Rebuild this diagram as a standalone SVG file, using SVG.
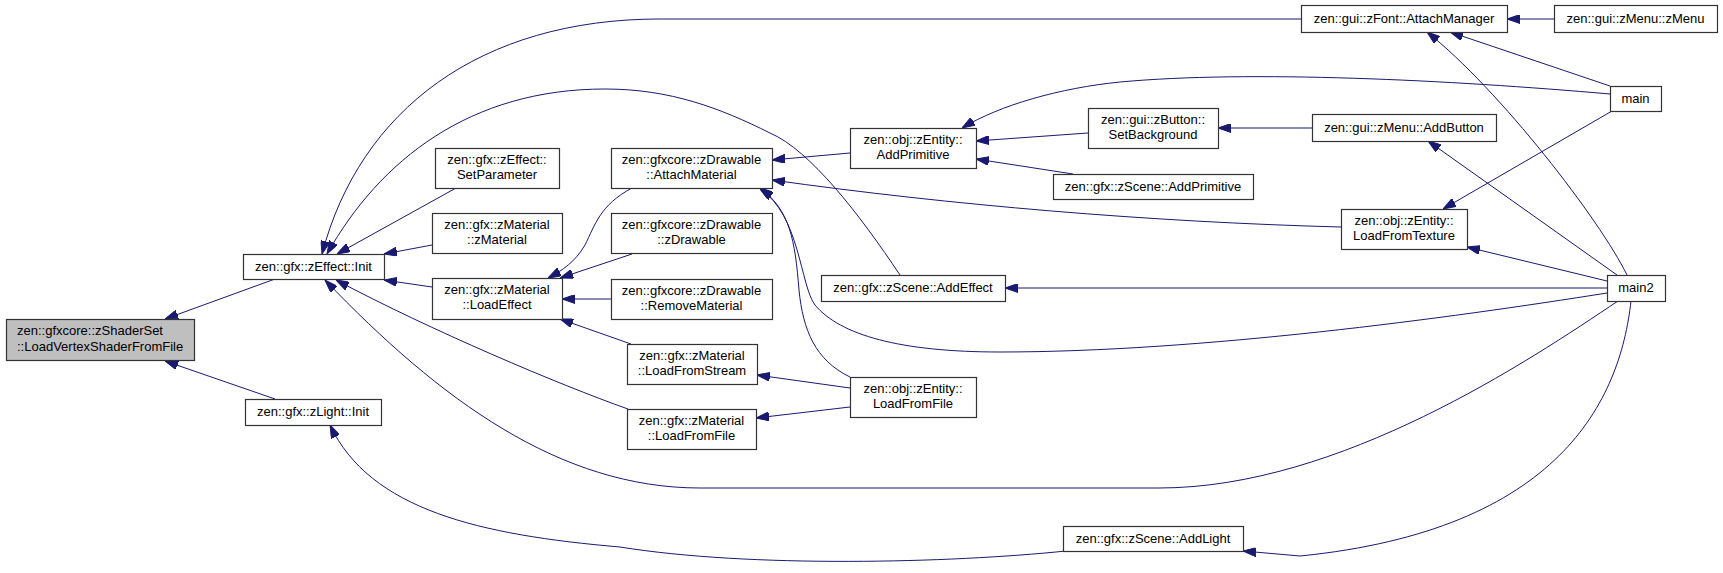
<svg xmlns="http://www.w3.org/2000/svg" width="1723" height="573" viewBox="0 0 1723 573">
<style>
.e{fill:none;stroke:#191970;stroke-width:1;marker-end:url(#ah)}
.n rect{fill:#ffffff;stroke:#333333;stroke-width:1.2}
.n.m rect{fill:#bfbfbf}
text{font-family:"Liberation Sans",Arial,sans-serif;font-size:13px;fill:#000000;text-anchor:middle}
.n.m text{text-anchor:start}
</style>
<defs>
<marker id="ah" viewBox="0 0 13 9" refX="13" refY="4.5" markerWidth="13" markerHeight="9" orient="auto" markerUnits="userSpaceOnUse">
<path d="M0,0 L13,4.5 L0,9 Z" fill="#191970" stroke="#191970" stroke-width="1"/>
</marker>
</defs>
<rect x="0" y="0" width="1723" height="573" fill="#ffffff"/>
<g id="connectors">
<path class="e" d="M275,279 L165,319"/>
<path class="e" d="M275,399 L165,361"/>
<path class="e" d="M456,188 L337,254"/>
<path class="e" d="M432,245 L384,254"/>
<path class="e" d="M432,287 L384,280"/>
<path class="e" d="M628,409 C560,385 430,330 336,280"/>
<path class="e" d="M1618,301 C1530,360 1340,488 1159,488 L700,488 C560,488 440,400 325,280"/>
<path class="e" d="M1301,19 L660,19 C480,19 360,110 322,254"/>
<path class="e" d="M900,275 C860,215 810,150 770,133 C720,108 670,89 605,89 C470,89 380,160 327,254"/>
<path class="e" d="M632,188 C600,205 595,225 585,245 C575,262 563,270 548,278"/>
<path class="e" d="M632,254 L560,278"/>
<path class="e" d="M611,299 L562,299"/>
<path class="e" d="M631,344 L560,319"/>
<path class="e" d="M850,153 L772,160"/>
<path class="e" d="M1341,227 C1150,222 950,205 772,180"/>
<path class="e" d="M850,377 C815,360 803,330 799,290 C795,240 790,210 760,188"/>
<path class="e" d="M1607,293 C1450,318 1200,352 1000,352 C900,352 840,335 815,305 C800,285 800,215 760,189"/>
<path class="e" d="M1088,133 L976,141"/>
<path class="e" d="M1073,174 L976,159"/>
<path class="e" d="M1610,94 C1450,80 1250,70 1120,82 C1060,88 1000,105 962,128"/>
<path class="e" d="M1312,128 L1218,128"/>
<path class="e" d="M1554,19 L1507,19"/>
<path class="e" d="M1610,86 L1450,32"/>
<path class="e" d="M1627,275 C1600,220 1500,90 1427,32"/>
<path class="e" d="M1617,275 L1428,141"/>
<path class="e" d="M1612,111 L1443,209"/>
<path class="e" d="M1607,281 L1467,247"/>
<path class="e" d="M1607,288 L1005,288"/>
<path class="e" d="M850,388 L757,375"/>
<path class="e" d="M850,407 L756,418"/>
<path class="e" d="M1631,301 C1620,400 1560,530 1300,556 L1243,551"/>
<path class="e" d="M1066,551 C950,563 750,568 620,547 C480,535 370,510 330,425"/>
</g>
<g id="n_main" class="n m"><rect x="6.5" y="319.5" width="188" height="41"/><text x="17" y="335">zen::gfxcore::zShaderSet</text><text x="17" y="351">::LoadVertexShaderFromFile</text></g>
<g id="n_effect_init" class="n"><rect x="243.5" y="254.5" width="141" height="25"/><text x="313.5" y="271">zen::gfx::zEffect::Init</text></g>
<g id="n_light_init" class="n"><rect x="245.5" y="399.5" width="136" height="26"/><text x="313" y="416">zen::gfx::zLight::Init</text></g>
<g id="n_setparam" class="n"><rect x="435.5" y="148.5" width="124" height="40"/><text x="497" y="164">zen::gfx::zEffect::</text><text x="497" y="179">SetParameter</text></g>
<g id="n_zmaterial" class="n"><rect x="432.5" y="213.5" width="130" height="40"/><text x="497" y="229">zen::gfx::zMaterial</text><text x="497" y="244">::zMaterial</text></g>
<g id="n_loadeffect" class="n"><rect x="432.5" y="278.5" width="130" height="41"/><text x="497" y="294">zen::gfx::zMaterial</text><text x="497" y="309">::LoadEffect</text></g>
<g id="n_attachmat" class="n"><rect x="611.5" y="148.5" width="161" height="40"/><text x="691.5" y="164">zen::gfxcore::zDrawable</text><text x="691.5" y="179">::AttachMaterial</text></g>
<g id="n_zdrawable" class="n"><rect x="611.5" y="213.5" width="161" height="40"/><text x="691.5" y="229">zen::gfxcore::zDrawable</text><text x="691.5" y="244">::zDrawable</text></g>
<g id="n_removemat" class="n"><rect x="611.5" y="279.5" width="161" height="40"/><text x="691.5" y="295">zen::gfxcore::zDrawable</text><text x="691.5" y="310">::RemoveMaterial</text></g>
<g id="n_loadstream" class="n"><rect x="627.5" y="344.5" width="130" height="40"/><text x="692" y="360">zen::gfx::zMaterial</text><text x="692" y="375">::LoadFromStream</text></g>
<g id="n_mat_loadfile" class="n"><rect x="627.5" y="409.5" width="129" height="40"/><text x="691.5" y="425">zen::gfx::zMaterial</text><text x="691.5" y="440">::LoadFromFile</text></g>
<g id="n_addprim" class="n"><rect x="850.5" y="128.5" width="126" height="40"/><text x="913" y="144">zen::obj::zEntity::</text><text x="913" y="159">AddPrimitive</text></g>
<g id="n_setbg" class="n"><rect x="1088.5" y="108.5" width="130" height="40"/><text x="1153" y="124">zen::gui::zButton::</text><text x="1153" y="139">SetBackground</text></g>
<g id="n_scene_addprim" class="n"><rect x="1053.5" y="174.5" width="200" height="25"/><text x="1153" y="191">zen::gfx::zScene::AddPrimitive</text></g>
<g id="n_addeffect" class="n"><rect x="821.5" y="275.5" width="184" height="26"/><text x="913" y="292">zen::gfx::zScene::AddEffect</text></g>
<g id="n_ent_loadfile" class="n"><rect x="850.5" y="377.5" width="126" height="40"/><text x="913" y="393">zen::obj::zEntity::</text><text x="913" y="408">LoadFromFile</text></g>
<g id="n_attachmgr" class="n"><rect x="1301.5" y="5.5" width="206" height="27"/><text x="1404" y="23">zen::gui::zFont::AttachManager</text></g>
<g id="n_zmenu" class="n"><rect x="1554.5" y="5.5" width="163" height="27"/><text x="1635.5" y="23">zen::gui::zMenu::zMenu</text></g>
<g id="n_mainfn" class="n"><rect x="1610.5" y="86.5" width="51" height="25"/><text x="1635.5" y="103">main</text></g>
<g id="n_addbutton" class="n"><rect x="1312.5" y="114.5" width="184" height="27"/><text x="1404" y="132">zen::gui::zMenu::AddButton</text></g>
<g id="n_loadtex" class="n"><rect x="1341.5" y="209.5" width="126" height="40"/><text x="1404" y="225">zen::obj::zEntity::</text><text x="1404" y="240">LoadFromTexture</text></g>
<g id="n_main2" class="n"><rect x="1607.5" y="275.5" width="58" height="26"/><text x="1636" y="292">main2</text></g>
<g id="n_addlight" class="n"><rect x="1063.5" y="526.5" width="180" height="25"/><text x="1153" y="543">zen::gfx::zScene::AddLight</text></g>
</svg>
